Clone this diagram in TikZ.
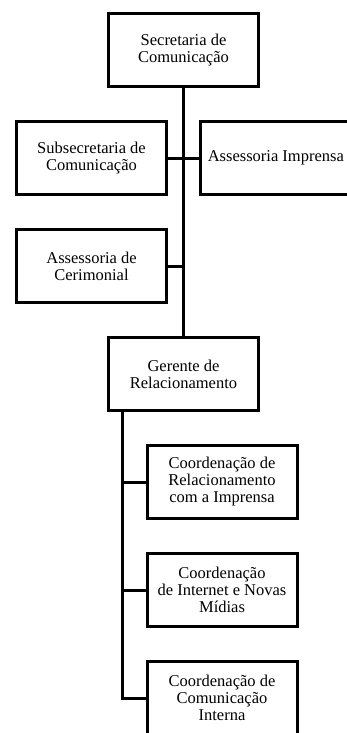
\documentclass[tikz,border=0pt]{standalone}
\usepackage{fontspec}
\setmainfont{Liberation Serif}
\usetikzlibrary{positioning}

\begin{document}
\begin{tikzpicture}[x=1pt, y=-1pt,
			orgbox/.style={rectangle, draw=black, line width=3pt, fill=white, align=center, minimum width=150pt, minimum height=73pt, inner sep=0pt, font=\fontsize{16.5}{17}\selectfont},
			link/.style={line width=3pt, line cap=rect}
		]
		\useasboundingbox (0,0) rectangle (347,733);
		\clip (0,0) rectangle (347,733);

		% connectors first, boxes are drawn on top
		\coordinate (top)  at (183.5,50);
		\coordinate (gtop) at (183.5,374);
		\draw [link] (top) -- (gtop);
		\draw [link] (91.5,158) -- (275.8,158);
		\draw [link] (91.5,266) -- (183.5,266);
		\coordinate (gtrunk) at (122.7,374);
		\draw [link] (gtrunk) |- (222,698);
		\draw [link] (gtrunk |- 0,482) -- (222,482);
		\draw [link] (gtrunk |- 0,590) -- (222,590);

		\node (sec)      [orgbox] at (top)  {Secretaria de \\ Comunicação};
		\node (subsec)   [orgbox] at (91.5,158)  {Subsecretaria de \\ Comunicação};
		\node (imprensa) [orgbox] at (275.8,158) {Assessoria Imprensa};
		\node (ceri)     [orgbox] at (91.5,266)  {Assessoria de \\ Cerimonial};
		\node (gerente)  [orgbox] at (gtop) {Gerente de \\ Relacionamento};
		\node (coordimp) [orgbox] at (222,482) {Coordenação de \\ Relacionamento \\ com a Imprensa};
		\node (coordnet) [orgbox] at (222,590) {Coordenação \\ de Internet e Novas \\ Mídias};
		\node (coordint) [orgbox] at (222,698) {Coordenação de \\ Comunicação \\ Interna};

	\end{tikzpicture}
\end{document}
